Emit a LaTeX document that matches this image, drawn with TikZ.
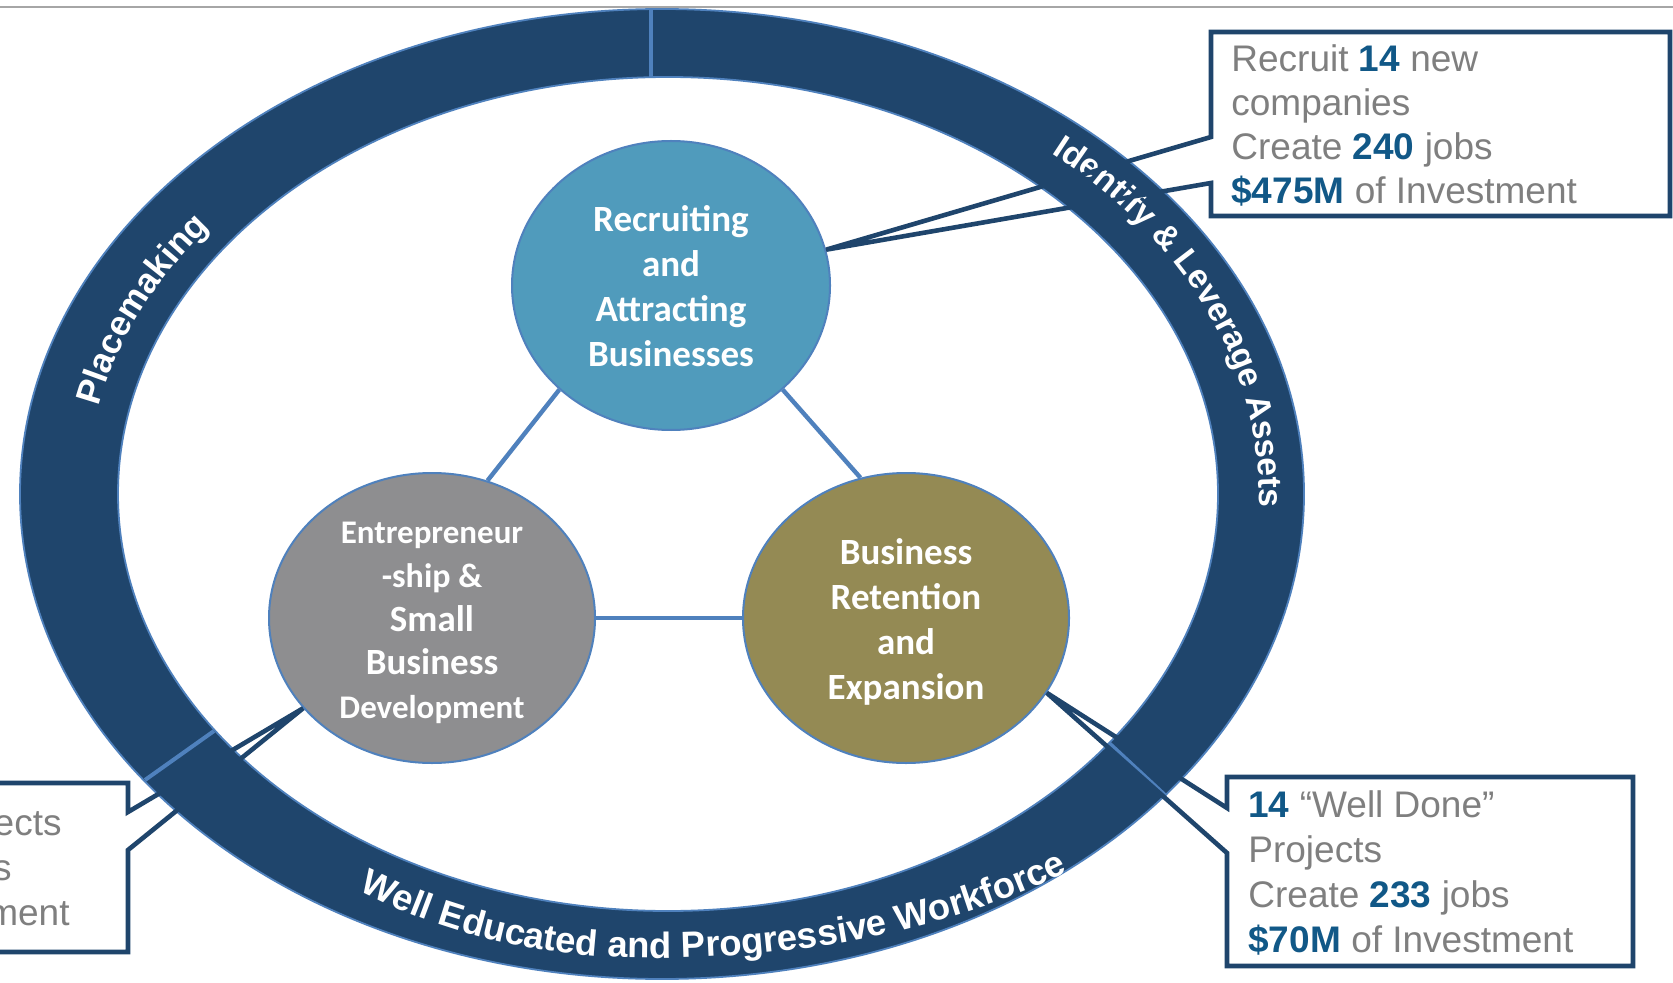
\documentclass[tikz,border=0pt]{standalone}
\usepackage{fontspec}
\setmainfont{Liberation Sans}
\newfontfamily\calfont{Carlito}
\usetikzlibrary{shapes.geometric,decorations.text}
\definecolor{ringblue}{RGB}{31,69,108}
\definecolor{edgeblue}{RGB}{79,129,189}
\definecolor{topc}{RGB}{80,155,188}
\definecolor{leftc}{RGB}{142,142,144}
\definecolor{rightc}{RGB}{148,138,84}
\definecolor{txtgray}{RGB}{127,127,127}
\definecolor{numblue}{RGB}{17,88,135}
\newcommand\ringfont{\bfseries\fontsize{18.2}{22}\selectfont\color{white}}
\newcommand\ringfontA{\bfseries\fontsize{17.5}{22}\selectfont\color{white}}
\newcommand\ringfontB{\bfseries\fontsize{16.8}{22}\selectfont\color{white}}
\newcommand\bnum[1]{{\bfseries\color{numblue}#1}}
\tikzset{
  circ/.style={ellipse, draw=edgeblue, line width=1pt, inner sep=0pt},
  ctext/.style={text=white, align=center, inner sep=0pt, font=\calfont\bfseries\fontsize{18.5}{22.4}\selectfont},
  conn/.style={draw=edgeblue, line width=2.2pt},
  callout/.style={draw=ringblue, line width=2.3pt, line join=miter},
  cline/.style={anchor=base west, inner sep=0pt, text=txtgray, font=\fontsize{18.5}{22.4}\selectfont},
  clineR/.style={anchor=base east, inner sep=0pt, text=txtgray, font=\fontsize{18.5}{22.4}\selectfont},
  divider/.style={draw=edgeblue, line width=2pt}
}
\begin{document}
\begin{tikzpicture}[x=0.5pt,y=-0.5pt]
\useasboundingbox (0,0) rectangle (1673,983);
\clip (0,0) rectangle (1673,983);
\fill[white] (0,0) rectangle (1673,983);
\draw[black!35, line width=0.8pt] (0,7) -- (1673,7);

% ring
\fill[ringblue, even odd rule] (662,494) ellipse [x radius=321pt, y radius=242.5pt]
  (668,494) ellipse [x radius=275pt, y radius=208.5pt];
\draw[edgeblue, line width=0.9pt] (662,494) ellipse [x radius=321pt, y radius=242.5pt];
\draw[edgeblue, line width=0.9pt] (668,494) ellipse [x radius=275pt, y radius=208.5pt];
\draw[divider] (651,9) -- (651,77);
\draw[divider] (145,780) -- (214,731);
\draw[divider] (1109,743) -- (1166,796);

% ring texts
\begin{scope}[shift={(665,494)}]
\path[decorate, decoration={text along path,
   text={|\ringfontA|Placemaking}}]
  (168.4:289pt and 216.5pt) arc[start angle=168.4, end angle=125, x radius=289pt, y radius=216.5pt];
\path[decorate, decoration={text along path,
   text={|\ringfontB|Identify {\&} Leverage Assets}}]
  (49.4:297pt and 224.5pt) arc[start angle=49.4, end angle=-12, x radius=297pt, y radius=224.5pt];
\end{scope}
\begin{scope}[shift={(650,958)}]
\path[decorate, decoration={text along path,
   text={|\ringfont|Well Educated and Progressive Workforce}}]
  (-291,-68) .. controls (-202,-21) and (-101,0) .. (0,0)
  .. controls (144,0) and (285,-23) .. (414,-84) -- (470,-112);
\end{scope}

% circles
\node[circ, fill=topc, minimum width=159pt, minimum height=144.5pt] (rec) at (671,285.5) {};
\node[circ, fill=leftc, minimum width=163pt, minimum height=145pt] (ent) at (432,618) {};
\node[circ, fill=rightc, minimum width=163pt, minimum height=145pt] (ret) at (906,618) {};

\node[ctext] (rectext) at (671,286) {Recruiting\\and\\Attracting\\Businesses};
\node[ctext, font=\calfont\bfseries\fontsize{18.5}{21.9}\selectfont] (enttext) at (432,623)
  {{\fontsize{16.5}{21.9}\selectfont Entrepreneur}\\{\fontsize{17}{21.9}\selectfont -ship \&}\\Small\\Business\\{\fontsize{16.5}{21.9}\selectfont Development}};
\node[ctext] (rettext) at (906,622) {Business\\Retention\\and\\Expansion};

% connectors
\draw[conn] (rec.223) -- (ent.68);
\draw[conn] (rec.317) -- (ret.108);
\draw[conn] (ent.0) -- (ret.180);

% callouts
\draw[callout] (1211,137) -- (rec.13.5) -- (1211,183) -- (1211,216) -- (1670,216) -- (1670,32) -- (1211,32) -- cycle;
\draw[callout] (1227,808) -- (ret.-28.6) -- (1227,853) -- (1227,966) -- (1633,966) -- (1633,777) -- (1227,777) -- cycle;
\draw[callout] (128,812) -- (ent.215.6) -- (128,850) -- (128,952) -- (-20,952) -- (-20,783) -- (128,783) -- cycle;

% callout texts
\node[cline] (tr1) at (1231,72) {Recruit \bnum{14} new};
\node[cline] (tr2) at (1231,116) {companies};
\node[cline] (tr3) at (1231,160) {Create \bnum{240} jobs};
\node[cline] (tr4) at (1231,204) {\bnum{\$475M} of Investment};

\node[cline] (br1) at (1248,817) {\bnum{14} “Well Done”};
\node[cline] (br2) at (1248,862) {Projects};
\node[cline] (br3) at (1248,907) {Create \bnum{233} jobs};
\node[cline] (br4) at (1248,952) {\bnum{\$70M} of Investment};

\node[clineR] (bl1) at (62,835) {ects};
\node[clineR] (bl2) at (12,880) {s};
\node[clineR] (bl3) at (70,925) {ment};
\end{tikzpicture}
\end{document}
